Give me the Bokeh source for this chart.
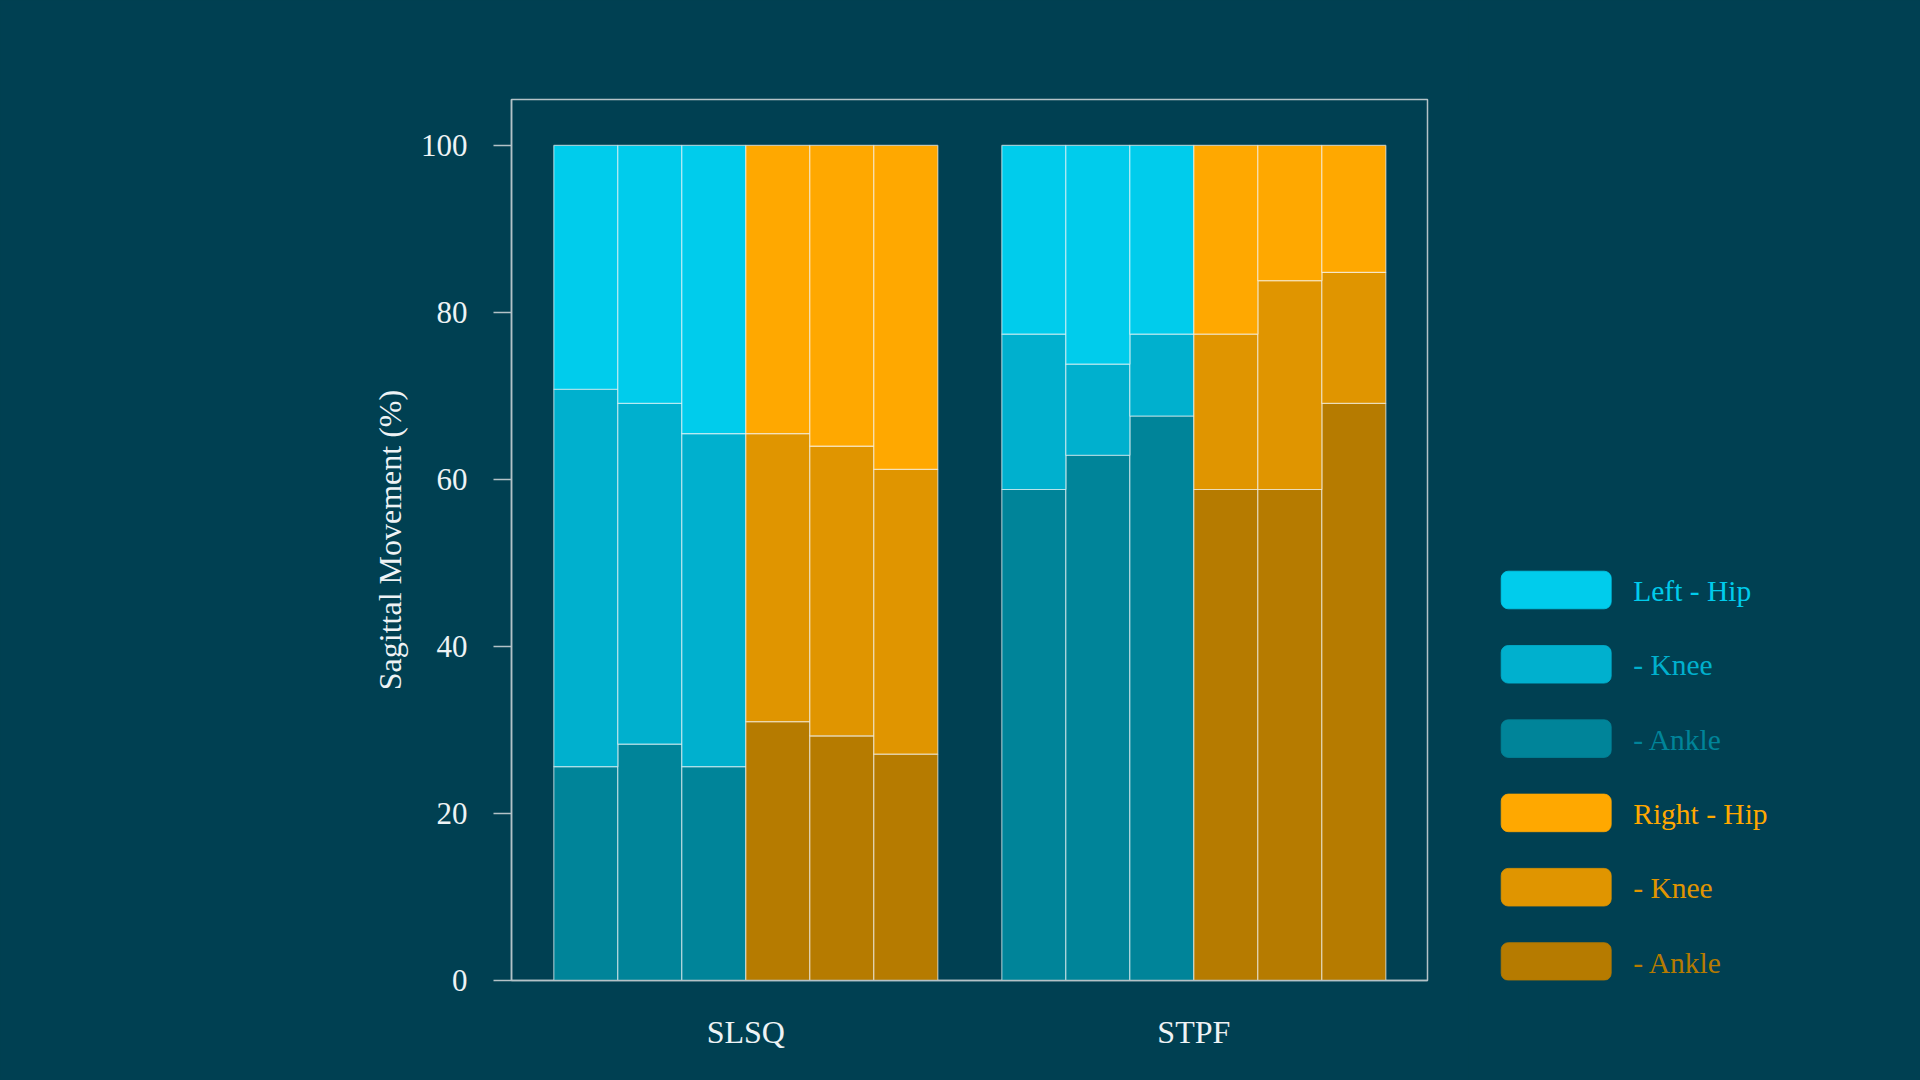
from bokeh.plotting import figure
from bokeh.layouts import row
from bokeh.models import Range1d, FixedTicker, ColumnDataSource
from bokeh.models.glyphs import Quad
from bokeh.core.properties import value
from bokeh.embed import file_html
from bokeh.resources import INLINE

# ---------------- data (percent of sagittal movement, stacked to 100) ----------------
groups = ["SLSQ", "STPF"]
sides = ["Left", "Right"]
joints = ["Ankle", "Knee", "Hip"]          # stacking order bottom -> top

left_ankle  = [[25.6, 28.3, 25.6], [58.8, 62.9, 67.6]]
left_knee   = [[45.2, 40.8, 39.9], [18.6, 10.9,  9.8]]
left_hip    = [[29.2, 30.9, 34.5], [22.6, 26.2, 22.6]]
right_ankle = [[31.0, 29.3, 27.1], [58.8, 58.8, 69.1]]
right_knee  = [[34.5, 34.7, 34.1], [18.6, 25.0, 15.7]]
right_hip   = [[34.5, 36.0, 38.8], [22.6, 16.2, 15.2]]

legend_labels = ["Left - Hip", "- Knee", "- Ankle", "Right - Hip", "- Knee", "- Ankle"]
y_ticks = [0, 20, 40, 60, 80, 100]

# ---------------- styling ----------------
BG = "#004052"
FRAME = "#b4c2c7"
TXT = "#eef3f5"
FONT = "Liberation Serif"
colors = {
    ("Left", "Hip"): "#00ccec", ("Left", "Knee"): "#00b0ce", ("Left", "Ankle"): "#008499",
    ("Right", "Hip"): "#ffa800", ("Right", "Knee"): "#e09500", ("Right", "Ankle"): "#b67b00",
}
legend_keys = [("Left", "Hip"), ("Left", "Knee"), ("Left", "Ankle"),
               ("Right", "Hip"), ("Right", "Knee"), ("Right", "Ankle")]

series = {
    ("Left", "Ankle"): left_ankle, ("Left", "Knee"): left_knee, ("Left", "Hip"): left_hip,
    ("Right", "Ankle"): right_ankle, ("Right", "Knee"): right_knee, ("Right", "Hip"): right_hip,
}

W_MAIN, W_LEG, H = 1468, 452, 1080
B_TOP, B_BOT = 99, 100
GROUP_STEP = 7.0   # 6 bars + 1 bar gap

p = figure(width=W_MAIN, height=H, output_backend="svg", toolbar_location=None,
           x_range=Range1d(-0.661, 13.651), y_range=Range1d(0, 105.5),
           min_border_left=511, min_border_right=41, min_border_top=B_TOP, min_border_bottom=B_BOT)
p.background_fill_color = BG
p.border_fill_color = BG
p.outline_line_color = FRAME
p.outline_line_width = 1.5
p.xgrid.visible = False
p.ygrid.visible = False

for (side, joint), data in series.items():
    xs, bottoms, tops = [], [], []
    for gi, g in enumerate(groups):
        for ti in range(3):
            base = 0.0
            for j in joints:
                if j == joint:
                    break
                base += series[(side, j)][gi][ti]
            si = sides.index(side)
            xs.append(gi * GROUP_STEP + si * 3 + ti + 0.5)
            bottoms.append(base)
            tops.append(base + data[gi][ti])
    src = ColumnDataSource(dict(x=xs, bottom=bottoms, top=tops))
    p.vbar(x="x", bottom="bottom", top="top", width=1.0, source=src,
           fill_color=colors[(side, joint)], line_color="white", line_alpha=0.6, line_width=1.2)

# x axis
xa = p.xaxis[0]
xa.ticker = FixedTicker(ticks=[gi * GROUP_STEP + 3.0 for gi in range(len(groups))])
xa.major_label_overrides = {gi * GROUP_STEP + 3.0: g for gi, g in enumerate(groups)}
xa.axis_line_color = FRAME
xa.axis_line_width = 1.5
xa.major_tick_line_color = None
xa.minor_tick_line_color = None
xa.major_tick_out = 0
xa.major_label_standoff = 33
xa.major_label_text_font = FONT
xa.major_label_text_font_size = "32px"
xa.major_label_text_color = TXT

# y axis
ya = p.yaxis[0]
ya.ticker = FixedTicker(ticks=y_ticks)
ya.axis_line_color = FRAME
ya.axis_line_width = 1.5
ya.major_tick_line_color = FRAME
ya.major_tick_line_width = 1.5
ya.major_tick_out = 18
ya.major_tick_in = 0
ya.minor_tick_line_color = None
ya.major_label_standoff = 26
ya.major_label_text_font = FONT
ya.major_label_text_font_size = "31px"
ya.major_label_text_color = TXT
ya.axis_label = "Sagittal Movement (%)"
ya.axis_label_text_font = FONT
ya.axis_label_text_font_size = "32px"
ya.axis_label_text_font_style = "normal"
ya.axis_label_text_color = TXT
ya.axis_label_standoff = 10

# ---------------- legend panel ----------------
# frames in a row are aligned, so the legend frame spans the same rows as the main frame;
# its y range is set so that one unit equals one screen pixel measured from the page top.
lg = figure(width=W_LEG, height=H, output_backend="svg", toolbar_location=None,
            x_range=Range1d(0, W_LEG), y_range=Range1d(H - B_BOT, B_TOP),
            min_border_left=0, min_border_right=0,
            min_border_top=B_TOP, min_border_bottom=B_BOT)
lg.background_fill_color = BG
lg.border_fill_color = BG
lg.outline_line_color = None
lg.axis.visible = False
lg.xgrid.visible = False
lg.ygrid.visible = False

SW_LEFT, SW_W, SW_H = 32.7, 110.0, 37.6
TOP0, STEP = 570.7, 74.3
tops_l = [TOP0 + i * STEP for i in range(len(legend_labels))]
leg_colors = [colors[k] for k in legend_keys]
lsrc = ColumnDataSource(dict(
    left=[SW_LEFT] * len(legend_labels), right=[SW_LEFT + SW_W] * len(legend_labels),
    top=tops_l, bottom=[t + SW_H for t in tops_l], color=leg_colors,
    tx=[SW_LEFT + SW_W + 22] * len(legend_labels), ty=[t + SW_H / 2 + 1 for t in tops_l],
    label=legend_labels))
qkw = {}
if "border_radius" in Quad.properties():
    qkw["border_radius"] = 7
lg.quad(left="left", right="right", top="top", bottom="bottom", source=lsrc,
        fill_color="color", line_color="color", line_alpha=0.8, **qkw)
lg.text(x="tx", y="ty", text="label", source=lsrc, text_color="color",
        text_font=value(FONT), text_font_size="29.5px", text_baseline="middle", text_align="left")

layout = row(p, lg, spacing=0)
layout.styles = {"background-color": BG}

open("out.html", "w").write(file_html(layout, INLINE))
